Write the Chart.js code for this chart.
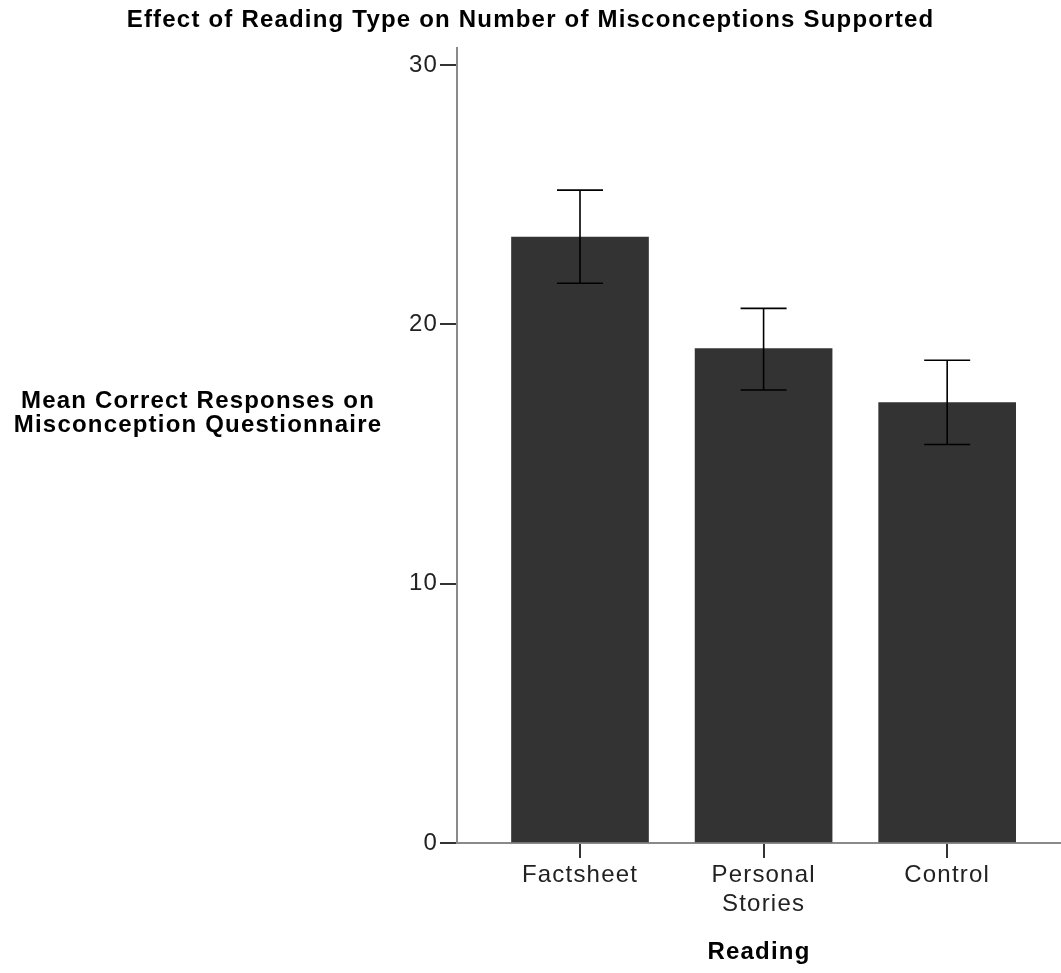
<!DOCTYPE html>
<html>
<head>
<meta charset="utf-8">
<script src="https://cdn.jsdelivr.net/npm/chart.js@4"></script>
<style>
  html, body { margin: 0; padding: 0; background: #fff; }
  #wrap { width: 1061px; height: 973px; }
</style>
</head>
<body>
<div id="wrap"><canvas id="readingChart" width="1061" height="973"></canvas></div>
<script>
// data
const categories = [['Factsheet'], ['Personal', 'Stories'], ['Control']];
const means = [23.37, 19.07, 16.99];
const errHigh = [25.18, 20.62, 18.62];
const errLow = [21.59, 17.47, 15.37];
const yTicks = [0, 10, 20, 30];

const FONT = "'Liberation Sans', Arial, sans-serif";
const SPACING = '1.2px';

// error bars + title + horizontal y-axis label
const extras = {
    id: 'extras',
    beforeUpdate(chart) { chart.ctx.letterSpacing = SPACING; },
    beforeDraw(chart) { chart.ctx.letterSpacing = SPACING; },
    afterDatasetsDraw(chart) {
        const ctx = chart.ctx;
        const x = chart.scales.x, y = chart.scales.y;
        ctx.save();
        ctx.strokeStyle = '#000';
        ctx.lineWidth = 1.6;
        means.forEach((m, i) => {
            const px = x.getPixelForValue(i);
            const top = y.getPixelForValue(errHigh[i]);
            const bot = y.getPixelForValue(errLow[i]);
            ctx.beginPath();
            ctx.moveTo(px, top); ctx.lineTo(px, bot);
            ctx.moveTo(px - 23, top); ctx.lineTo(px + 23, top);
            ctx.moveTo(px - 23, bot); ctx.lineTo(px + 23, bot);
            ctx.stroke();
        });
        ctx.restore();
    },
    afterDraw(chart) {
        const ctx = chart.ctx;
        ctx.save();
        ctx.letterSpacing = SPACING;
        ctx.fillStyle = '#000';
        ctx.textAlign = 'center';
        ctx.textBaseline = 'middle';
        ctx.font = 'bold 24px ' + FONT;
        ctx.fillText('Effect of Reading Type on Number of Misconceptions Supported', chart.width / 2, 20);
        ctx.font = 'bold 24px ' + FONT;
        ctx.fillText('Mean Correct Responses on', 198, 401);
        ctx.fillText('Misconception Questionnaire', 198, 425);
        ctx.restore();
    }
};

new Chart(document.getElementById('readingChart').getContext('2d'), {
    type: 'bar',
    data: {
        datasets: [{
            data: means.map((v, i) => ({ x: i, y: v })),
            backgroundColor: '#333333',
            borderWidth: 0,
            barThickness: 137
        }]
    },
    options: {
        responsive: false,
        animation: false,
        layout: { padding: { top: 48, left: 0, right: 0, bottom: 0 } },
        plugins: {
            legend: { display: false },
            tooltip: { enabled: false }
        },
        scales: {
            x: {
                type: 'linear',
                offset: false,
                min: -0.67,
                max: 2.62,
                afterBuildTicks: (s) => { s.ticks = categories.map((c, i) => ({ value: i })); },
                afterFit: (s) => { s.height = 130; },
                ticks: {
                    color: '#222',
                    font: { family: FONT, size: 24 },
                    padding: 3,
                    maxRotation: 0,
                    autoSkip: false,
                    callback: (v) => categories[v]
                },
                grid: {
                    offset: false,
                    drawOnChartArea: false,
                    drawTicks: true,
                    tickLength: 15,
                    color: '#333',
                    lineWidth: 2
                },
                border: { color: '#8a8a8a', width: 2 },
                title: {
                    display: true,
                    text: 'Reading',
                    color: '#000',
                    font: { family: FONT, size: 24, weight: 'bold' },
                    padding: { top: 0, bottom: 6 }
                }
            },
            y: {
                min: 0,
                max: 30.66,
                afterBuildTicks: (s) => { s.ticks = yTicks.map(v => ({ value: v })); },
                afterFit: (s) => { s.width = 457; },
                ticks: {
                    color: '#222',
                    font: { family: FONT, size: 24 },
                    padding: 2
                },
                grid: {
                    drawOnChartArea: false,
                    drawTicks: true,
                    tickLength: 17,
                    color: '#333',
                    lineWidth: 2
                },
                border: { color: '#8a8a8a', width: 2 }
            }
        }
    },
    plugins: [extras]
});
</script>
</body>
</html>
